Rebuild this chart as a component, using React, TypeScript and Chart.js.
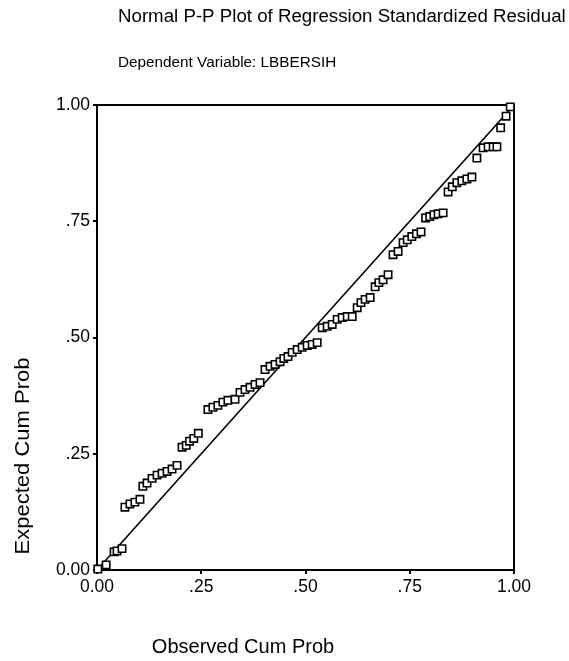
import React, { useEffect, useRef } from "react";
import { Chart, registerables } from "chart.js";

Chart.register(...registerables);

const chartTitle = "Normal P-P Plot of Regression Standardized Residual";
const chartSubtitle = "Dependent Variable: LBBERSIH";
const xAxisTitle = "Observed Cum Prob";
const yAxisTitle = "Expected Cum Prob";

const tickValues = [0, 0.25, 0.5, 0.75, 1];
const tickLabels = ["0.00", ".25", ".50", ".75", "1.00"];

const observedCumProb = [
  0.002, 0.022, 0.041, 0.048, 0.06,
  0.067, 0.079, 0.091, 0.103,
  0.11, 0.12, 0.132, 0.144, 0.156, 0.168, 0.18, 0.192,
  0.204, 0.214, 0.222, 0.232, 0.243,
  0.266, 0.278, 0.29, 0.302, 0.314,
  0.331, 0.343, 0.355, 0.367, 0.379, 0.391,
  0.403, 0.415, 0.427, 0.439,
  0.448, 0.458, 0.468, 0.48, 0.492, 0.504, 0.516, 0.528,
  0.54, 0.552, 0.564, 0.576, 0.588, 0.6, 0.612,
  0.624, 0.633, 0.643, 0.655,
  0.667, 0.676, 0.686, 0.698,
  0.71, 0.722,
  0.734, 0.744, 0.755, 0.766, 0.777,
  0.788, 0.798, 0.808, 0.818, 0.83,
  0.842, 0.852, 0.863, 0.875, 0.887, 0.899,
  0.911,
  0.926, 0.938, 0.95, 0.959,
  0.968, 0.981, 0.991,
];

const expectedCumProb = [
  0.002, 0.011, 0.039, 0.041, 0.046,
  0.135, 0.142, 0.146, 0.152,
  0.18, 0.187, 0.197, 0.204, 0.208, 0.212, 0.217, 0.225,
  0.264, 0.268, 0.277, 0.283, 0.294,
  0.345, 0.35, 0.354, 0.361, 0.365,
  0.367, 0.382, 0.388, 0.393, 0.399, 0.403,
  0.431, 0.438, 0.442, 0.448,
  0.455, 0.459, 0.468, 0.474, 0.479, 0.483, 0.485, 0.489,
  0.521, 0.524, 0.528, 0.539, 0.543, 0.545, 0.545,
  0.564, 0.575, 0.582, 0.586,
  0.609, 0.618, 0.624, 0.635,
  0.678, 0.685,
  0.704, 0.71, 0.717, 0.723, 0.727,
  0.757, 0.76, 0.764, 0.766, 0.768,
  0.813, 0.824, 0.833, 0.837, 0.841, 0.845,
  0.886,
  0.908, 0.91, 0.91, 0.91,
  0.951, 0.976, 0.996,
];

const diagonalX = [0, 1];
const diagonalY = [0, 1];

const FONT = "'Liberation Sans', Arial, Helvetica, sans-serif";

const textPlugin = {
  id: "ppText",
  beforeDatasetsDraw(chart: any) {
    const { ctx, chartArea } = chart;
    ctx.save();
    ctx.strokeStyle = "#000";
    ctx.lineWidth = 2;
    ctx.beginPath();
    ctx.moveTo(chartArea.left, chartArea.top);
    ctx.lineTo(chartArea.right, chartArea.top);
    ctx.lineTo(chartArea.right, chartArea.bottom);
    ctx.stroke();
    ctx.restore();
  },
  afterDraw(chart: any) {
    const { ctx } = chart;
    ctx.save();
    ctx.fillStyle = "#000";
    ctx.textBaseline = "middle";
    ctx.textAlign = "left";
    ctx.font = `18.7px ${FONT}`;
    ctx.fillText(chartTitle, 118, 17);
    ctx.font = `15.3px ${FONT}`;
    ctx.fillText(chartSubtitle, 118, 63);
    ctx.font = `20px ${FONT}`;
    ctx.textAlign = "center";
    ctx.fillText(xAxisTitle, 243, 647);
    ctx.translate(23, 456);
    ctx.rotate(-Math.PI / 2);
    ctx.scale(1.1, 1);
    ctx.fillText(yAxisTitle, 0, 0);
    ctx.restore();
  },
};

export default function App() {
  const ref = useRef<HTMLCanvasElement | null>(null);
  useEffect(() => {
    if (!ref.current) return;
    const points = observedCumProb.map((x, i) => ({ x, y: expectedCumProb[i] }));
    const diag = diagonalX.map((x, i) => ({ x, y: diagonalY[i] }));
    const tickFmt = (v: any) => {
      const i = tickValues.indexOf(Number(v));
      return i >= 0 ? tickLabels[i] : "";
    };
    const setTicks = (scale: any) => {
      scale.ticks = tickValues.map((v) => ({ value: v }));
    };
    const chart = new Chart(ref.current, {
      type: "scatter",
      data: {
        datasets: [
          {
            label: "Observed",
            data: points,
            pointStyle: "rect",
            pointRadius: 5.2,
            pointBorderWidth: 1.6,
            pointBorderColor: "#000",
            pointBackgroundColor: "#fff",
            showLine: false,
            clip: false,
          } as any,
          {
            label: "Diagonal",
            data: diag,
            showLine: true,
            pointRadius: 0,
            borderColor: "#000",
            borderWidth: 1.6,
            clip: false,
          } as any,
        ],
      },
      options: {
        responsive: false,
        animation: false,
        devicePixelRatio: 1,
        layout: { padding: { top: 105, right: 55, bottom: 0, left: 0 } },
        plugins: { legend: { display: false }, tooltip: { enabled: false }, title: { display: false } },
        scales: {
          x: {
            type: "linear",
            min: 0,
            max: 1,
            afterBuildTicks: setTicks,
            afterFit: (s: any) => { s.height = 91; },
            ticks: { callback: tickFmt, color: "#000", font: { family: FONT, size: 17.5 }, padding: 3, maxRotation: 0 },
            grid: { drawOnChartArea: false, drawTicks: true, tickLength: 4, color: "#000", lineWidth: 2 },
            border: { display: true, color: "#000", width: 2 },
          },
          y: {
            type: "linear",
            min: 0,
            max: 1,
            afterBuildTicks: setTicks,
            afterFit: (s: any) => { s.width = 97; },
            ticks: { callback: tickFmt, color: "#000", font: { family: FONT, size: 17.5 }, padding: 3 },
            grid: { drawOnChartArea: false, drawTicks: true, tickLength: 4, color: "#000", lineWidth: 2 },
            border: { display: true, color: "#000", width: 2 },
          },
        },
      },
      plugins: [textPlugin],
    });
    return () => chart.destroy();
  }, []);
  return (
    <div style={{ position: "absolute", left: 0, top: 0, width: 569, height: 661, background: "#fff" }}>
      <canvas ref={ref} width={569} height={661} style={{ display: "block" }} />
    </div>
  );
}
